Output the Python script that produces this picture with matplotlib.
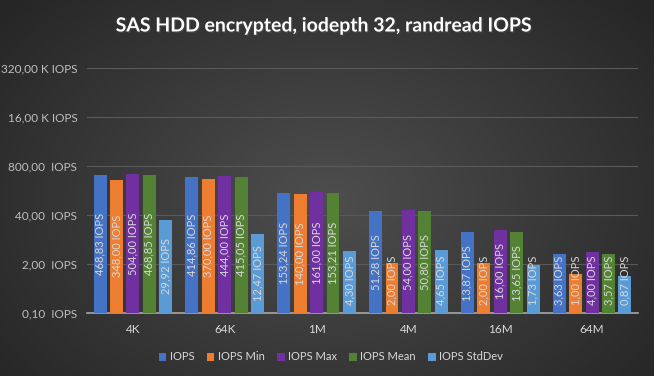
import numpy as np
import matplotlib
matplotlib.use("Agg")
import matplotlib.pyplot as plt
import matplotlib.patheffects as pe

categories = ["4K", "64K", "1M", "4M", "16M", "64M"]
series_names = ["IOPS", "IOPS Min", "IOPS Max", "IOPS Mean", "IOPS StdDev"]
iops = [468.83, 414.86, 153.24, 51.28, 13.87, 3.63]
iops_min = [348.00, 370.00, 140.00, 2.00, 2.00, 1.00]
iops_max = [504.00, 444.00, 161.00, 54.00, 16.00, 4.00]
iops_mean = [468.85, 415.05, 153.21, 50.80, 13.65, 3.57]
iops_std = [29.92, 12.47, 4.30, 4.65, 1.73, 0.87]
y_ticks = [0.1, 2, 40, 800, 16000, 320000]
y_tick_labels = ["0,10  IOPS", "2,00  IOPS", "40,00  IOPS", "800,00  IOPS",
                 "16,00 K IOPS", "320,00 K IOPS"]

series = [iops, iops_min, iops_max, iops_mean, iops_std]
colors = ["#4472C4", "#ED7D31", "#7030A0", "#548235", "#5B9BD5"]
txt_color = "#d9d9d9"

plt.rcParams["font.family"] = ["Lato", "DejaVu Sans"]

fig = plt.figure(figsize=(6.54, 3.76), dpi=100)

# radial background like the excel chart area
bg = fig.add_axes([0, 0, 1, 1], zorder=-10)
yy, xx = np.mgrid[0:376, 0:654]
r = np.sqrt(((xx - 327) / 420.0) ** 2 + ((yy - 200) / 300.0) ** 2)
shade = 0x4e - (0x4e - 0x26) * np.clip(r, 0, 1)
bg.imshow(np.dstack([shade, shade, shade]) / 255.0, aspect="auto")
bg.axis("off")

ax = fig.add_axes([87 / 654, 63 / 376, 551 / 654, 245 / 376])
ax.set_facecolor("none")
ax.set_yscale("log", base=20)
ax.set_ylim(0.1, 320000)
ax.set_xlim(-0.5, len(categories) - 0.5)

x = np.arange(len(categories))
step = 0.179
width = 0.141
bars = []
for i, (vals, name, c) in enumerate(zip(series, series_names, colors)):
    b = ax.bar(x + (i - 2) * step, vals, width, bottom=0.1, color=c, label=name, zorder=3)
    bars.append(b)

ax.set_yticks(y_ticks)
ax.set_yticklabels(y_tick_labels)
ax.yaxis.set_minor_locator(matplotlib.ticker.NullLocator())
ax.set_xticks(x)
ax.set_xticklabels(categories)
ax.tick_params(axis="y", length=0, colors="#bfbfbf", labelsize=8.5, pad=7)
ax.tick_params(axis="x", length=0, colors=txt_color, labelsize=8.5, pad=8)
ax.grid(axis="y", color="#5a5a5a", linewidth=0.8, zorder=0)
for s in ["top", "right", "left"]:
    ax.spines[s].set_visible(False)
ax.spines["bottom"].set_color("#a6a6a6")
ax.spines["bottom"].set_linewidth(1.2)

fig.text(0.497, 1 - 26 / 376, "SAS HDD encrypted, iodepth 32, randread IOPS",
         ha="center", va="center", color="white", fontsize=14, fontweight="bold",
         path_effects=[pe.withSimplePatchShadow(offset=(1, -1), alpha=0.5)])

# value labels, centered in the bar but kept above the base
fig.canvas.draw()
renderer = fig.canvas.get_renderer()
for b, vals in zip(bars, series):
    for rect, v in zip(b, vals):
        xc = rect.get_x() + rect.get_width() / 2
        t = ax.text(xc, 0.1, f"{v:.2f}".replace(".", ",") + " IOPS", rotation=90,
                    ha="center", va="center", color=txt_color, fontsize=8, zorder=4)
        h = t.get_window_extent(renderer).height
        base = ax.transData.transform((xc, 0.1))[1]
        top = ax.transData.transform((xc, v))[1]
        yc = max((top - base) / 2, 8 + h / 2) + base
        t.set_position((xc, ax.transData.inverted().transform((0, yc))[1]))

leg = fig.legend(loc="center", bbox_to_anchor=(0.506, 1 - 357 / 376), ncol=5,
                 frameon=False, fontsize=8, handlelength=0.7, handleheight=0.7,
                 handletextpad=0.3, columnspacing=1.1)
for t in leg.get_texts():
    t.set_color(txt_color)

fig.savefig("out.png", dpi=100)
